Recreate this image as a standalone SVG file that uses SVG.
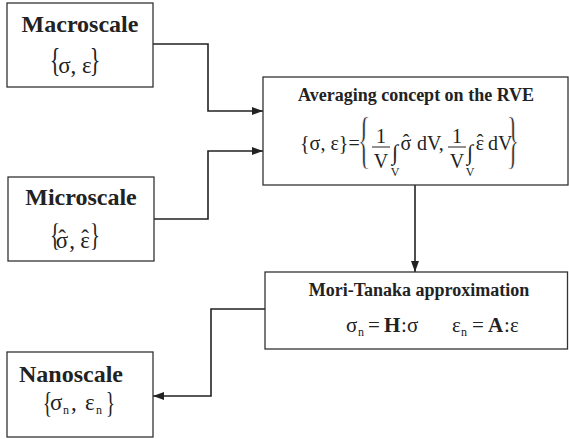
<svg xmlns="http://www.w3.org/2000/svg" width="569" height="439" viewBox="0 0 569 439">
<defs>
<marker id="ah" markerUnits="userSpaceOnUse" markerWidth="11" markerHeight="8" refX="11" refY="4" orient="auto">
<path d="M0,0 L11,4 L0,8 z" fill="#222"/>
</marker>
<style>
.box{fill:#fff;stroke:#333;stroke-width:1.3}
.t{font-family:"Liberation Serif","Times New Roman","DejaVu Serif",serif;fill:#222}
.h1{font-weight:bold;font-size:24px}
.h2{font-weight:bold;font-size:18px}
.m{font-size:23px}
.e{font-size:20px}
.f{font-size:21px}
.s{font-size:12px}
.b{font-weight:bold}
.big{font-size:64px;stroke:#fff;stroke-width:1}
.conn{fill:none;stroke:#222;stroke-width:1.6}
</style>
</defs>
<rect width="569" height="439" fill="#fff"/>
<g id="connectors">
<path class="conn" d="M153,44 H208 V111 H263" marker-end="url(#ah)"/>
<path class="conn" d="M154,219 H208 V151 H263" marker-end="url(#ah)"/>
<path class="conn" d="M415,185 V272" marker-end="url(#ah)"/>
<path class="conn" d="M265,309 H211 V396 H153" marker-end="url(#ah)"/>
</g>
<g id="macroscale">
<rect class="box" x="7" y="3" width="146" height="84"/>
<text class="t h1" x="80" y="32" text-anchor="middle">Macroscale</text>
<text class="t" font-size="34" text-anchor="middle" transform="translate(55,71) scale(0.65,1)">{</text>
<text class="t m" x="75" y="73" text-anchor="middle">σ, ε</text>
<text class="t" font-size="34" text-anchor="middle" transform="translate(95,71) scale(0.65,1)">}</text>
</g>
<g id="microscale">
<rect class="box" x="8" y="177" width="146" height="84"/>
<text class="t h1" x="81" y="205" text-anchor="middle">Microscale</text>
<text class="t" font-size="32" text-anchor="middle" transform="translate(55,246) scale(0.65,1)">{</text>
<text class="t m" x="62" y="248" text-anchor="middle">σ</text>
<text class="t m" x="62" y="246" text-anchor="middle">ˆ</text>
<text class="t m" x="72" y="248" text-anchor="middle">,</text>
<text class="t m" x="85" y="248" text-anchor="middle">ε</text>
<text class="t m" x="85" y="246" text-anchor="middle">ˆ</text>
<text class="t" font-size="32" text-anchor="middle" transform="translate(95,246) scale(0.65,1)">}</text>
</g>
<g id="averaging">
<rect class="box" x="263" y="77" width="305" height="108"/>
<text class="t h2" x="416" y="101" text-anchor="middle">Averaging concept on the RVE</text>
<text class="t e" x="300" y="150">{σ, ε}=</text>
<text class="t big" text-anchor="middle" transform="translate(364,161) scale(0.42,1)">{</text>
<text class="t e" x="381" y="143" text-anchor="middle">1</text>
<line x1="372" y1="147" x2="390" y2="147" stroke="#222" stroke-width="1"/>
<text class="t e" x="381" y="168" text-anchor="middle">V</text>
<text class="t" font-size="22" x="395" y="160" text-anchor="middle">∫</text>
<text class="t s" x="395" y="176" text-anchor="middle">V</text>
<text class="t e" x="406" y="150" text-anchor="middle">σ</text>
<text class="t e" x="406" y="149" text-anchor="middle">ˆ</text>
<text class="t e" x="417" y="150">dV,</text>
<text class="t e" x="457" y="143" text-anchor="middle">1</text>
<line x1="448" y1="147" x2="466" y2="147" stroke="#222" stroke-width="1"/>
<text class="t e" x="457" y="168" text-anchor="middle">V</text>
<text class="t" font-size="22" x="470" y="160" text-anchor="middle">∫</text>
<text class="t s" x="470" y="176" text-anchor="middle">V</text>
<text class="t e" x="480" y="150" text-anchor="middle">ε</text>
<text class="t e" x="480" y="149" text-anchor="middle">ˆ</text>
<text class="t e" x="488" y="150">dV</text>
<text class="t big" text-anchor="middle" transform="translate(513,161) scale(0.42,1)">}</text>
</g>
<g id="moritanaka">
<rect class="box" x="265" y="272" width="302.5" height="77"/>
<text class="t h2" x="419" y="296" text-anchor="middle">Mori-Tanaka approximation</text>
<text class="t f" x="346" y="332">σ</text>
<text class="t s" x="358" y="336">n</text>
<text class="t f" x="368" y="332">=</text>
<text class="t f b" x="384" y="332">H</text>
<text class="t f" x="401" y="332">:</text>
<text class="t f" x="407" y="332">σ</text>
<text class="t f" x="452" y="332">ε</text>
<text class="t s" x="461" y="336">n</text>
<text class="t f" x="472" y="332">=</text>
<text class="t f b" x="488" y="332">A</text>
<text class="t f" x="504" y="332">:</text>
<text class="t f" x="510" y="332">ε</text>
</g>
<g id="nanoscale">
<rect class="box" x="7" y="352" width="146" height="85"/>
<text class="t h1" x="19" y="382">Nanoscale</text>
<text class="t" font-size="30" text-anchor="middle" transform="translate(47.5,412) scale(0.65,1)">{</text>
<text class="t m" x="50" y="410">σ</text>
<text class="t s" x="63" y="414">n</text>
<text class="t m" x="71" y="410">,</text>
<text class="t m" x="85" y="410">ε</text>
<text class="t s" x="96" y="414">n</text>
<text class="t" font-size="30" text-anchor="middle" transform="translate(110.5,412) scale(0.65,1)">}</text>
</g>
</svg>
